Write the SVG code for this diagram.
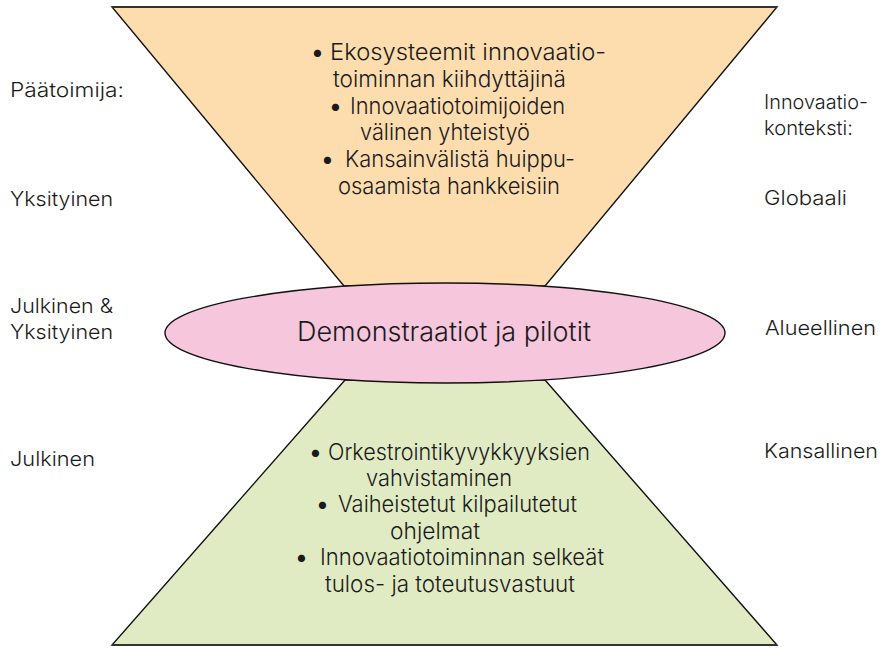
<svg xmlns="http://www.w3.org/2000/svg" width="884" height="657" viewBox="0 0 884 657">
  <style>
    .txt { font-family: Inter, "Liberation Sans", Arial, sans-serif; font-weight: 300; fill: #1a1a1a; }
    .body { font-size: 23px; }
    .side { font-size: 20px; }
    .dot { font-weight: 700; }
    .shape { stroke: #111; stroke-width: 1.4; stroke-linejoin: miter; }
    .edge { stroke: #333; stroke-width: 2.2; fill: none; }
  </style>
  <rect width="884" height="657" fill="#ffffff"/>

  <!-- Upper funnel: private ecosystem level -->
  <g id="upper-funnel">
    <polygon class="shape" points="112,7 777,7 545,286 344,286" fill="#FDDDAE"/>
    <line class="edge" x1="112" y1="7" x2="777" y2="7"/>
    <g class="txt body">
      <text class="dot" x="312" y="60">•</text>
      <text x="330" y="60" textLength="276" lengthAdjust="spacingAndGlyphs">Ekosysteemit  innovaatio-</text>
      <text x="333" y="87" textLength="233" lengthAdjust="spacingAndGlyphs">toiminnan  kiihdyttäjinä</text>
      <text class="dot" x="330" y="114">•</text>
      <text x="350" y="114" textLength="215" lengthAdjust="spacingAndGlyphs">Innovaatiotoimijoiden</text>
      <text x="360" y="140" textLength="170" lengthAdjust="spacingAndGlyphs">välinen yhteistyö</text>
      <text class="dot" x="322" y="167">•</text>
      <text x="345" y="167" textLength="230" lengthAdjust="spacingAndGlyphs">Kansainvälistä huippu-</text>
      <text x="338" y="194" textLength="222" lengthAdjust="spacingAndGlyphs">osaamista hankkeisiin</text>
    </g>
  </g>

  <!-- Lower funnel: public national level -->
  <g id="lower-funnel">
    <polygon class="shape" points="345,380 545,380 777,645 112,645" fill="#E1EBC3"/>
    <line class="edge" x1="112" y1="645" x2="777" y2="645"/>
    <g class="txt body">
      <text class="dot" x="310" y="460">•</text>
      <text x="328" y="460" textLength="262" lengthAdjust="spacingAndGlyphs">Orkestrointikyvykkyyksien</text>
      <text x="366" y="486" textLength="146" lengthAdjust="spacingAndGlyphs">vahvistaminen</text>
      <text class="dot" x="317" y="512">•</text>
      <text x="338" y="512" textLength="239" lengthAdjust="spacingAndGlyphs">Vaiheistetut kilpailutetut</text>
      <text x="390" y="539" textLength="90" lengthAdjust="spacingAndGlyphs">ohjelmat</text>
      <text class="dot" x="296" y="565">•</text>
      <text x="320" y="565" textLength="284" lengthAdjust="spacingAndGlyphs">Innovaatiotoiminnan selkeät</text>
      <text x="325" y="592" textLength="250" lengthAdjust="spacingAndGlyphs">tulos- ja toteutusvastuut</text>
    </g>
  </g>

  <!-- Middle level: demonstrations and pilots -->
  <g id="pilots">
    <ellipse class="shape" cx="445" cy="333" rx="280" ry="50" fill="#F5C6DC"/>
    <text class="txt" x="297" y="341" font-size="27" textLength="294" lengthAdjust="spacingAndGlyphs">Demonstraatiot ja pilotit</text>
  </g>

  <!-- Left axis: main actor -->
  <g id="actor-axis" class="txt side">
    <text x="10" y="97" textLength="114" lengthAdjust="spacingAndGlyphs">Päätoimija:</text>
    <text x="10" y="206" textLength="103" lengthAdjust="spacingAndGlyphs">Yksityinen</text>
    <text x="10" y="313" textLength="103" lengthAdjust="spacingAndGlyphs">Julkinen &amp;</text>
    <text x="10" y="339" textLength="103" lengthAdjust="spacingAndGlyphs">Yksityinen</text>
    <text x="10" y="466" textLength="85" lengthAdjust="spacingAndGlyphs">Julkinen</text>
  </g>

  <!-- Right axis: innovation context -->
  <g id="context-axis" class="txt side">
    <text x="764" y="109" textLength="104" lengthAdjust="spacingAndGlyphs">Innovaatio-</text>
    <text x="764" y="135" textLength="89" lengthAdjust="spacingAndGlyphs">konteksti:</text>
    <text x="764" y="205" textLength="83" lengthAdjust="spacingAndGlyphs">Globaali</text>
    <text x="765" y="335" textLength="111" lengthAdjust="spacingAndGlyphs">Alueellinen</text>
    <text x="764" y="458" textLength="114" lengthAdjust="spacingAndGlyphs">Kansallinen</text>
  </g>
</svg>
